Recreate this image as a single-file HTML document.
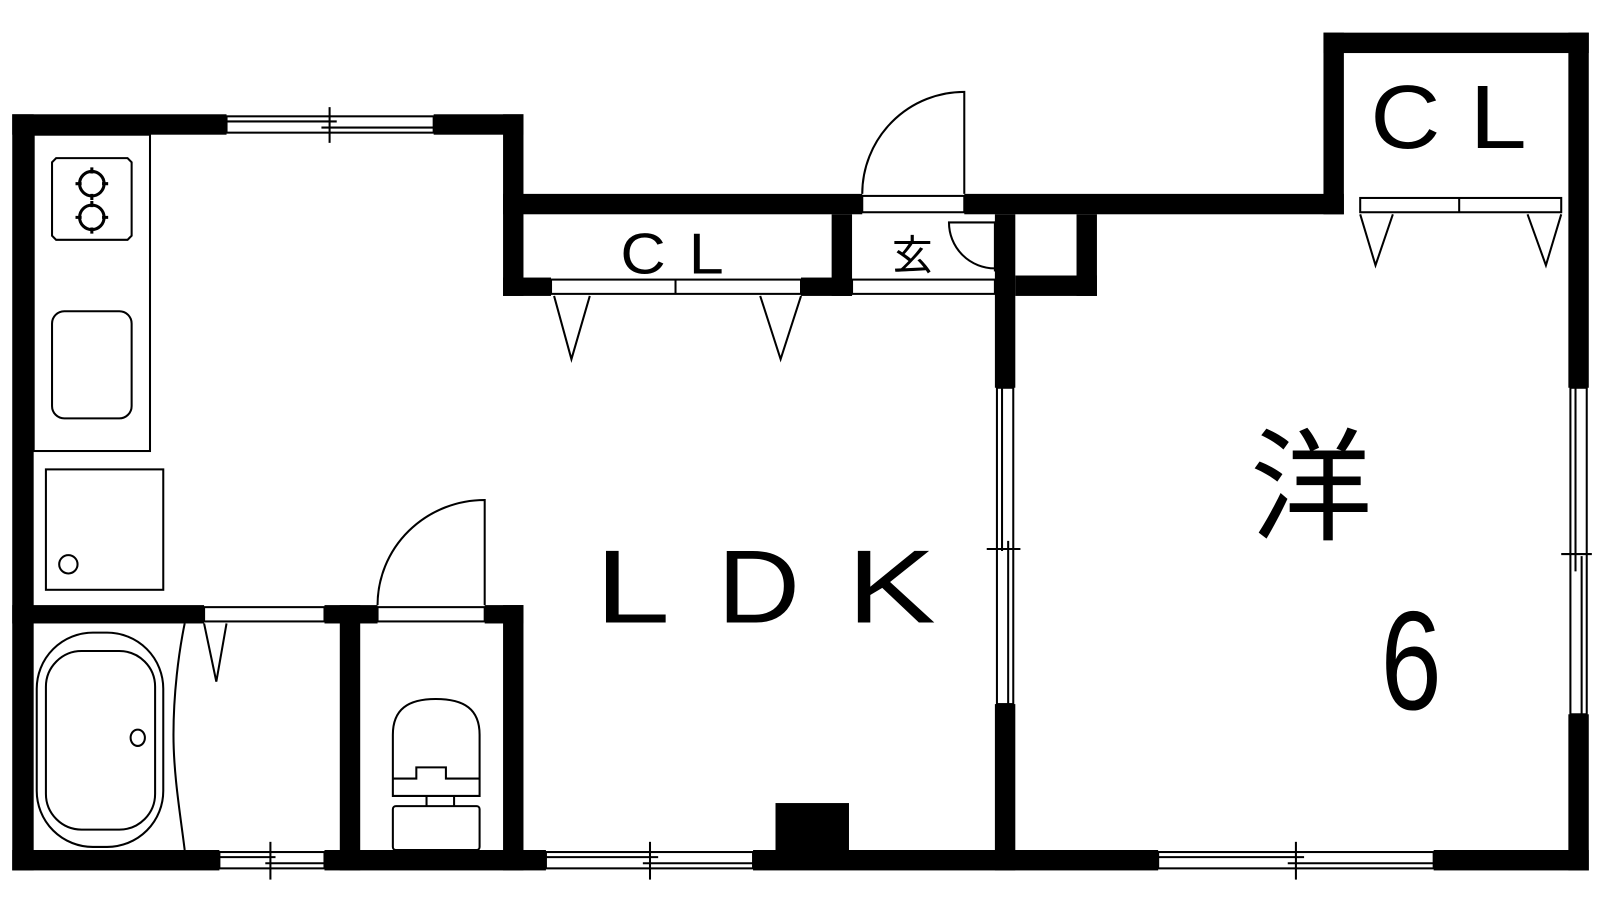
<!DOCTYPE html>
<html><head><meta charset="utf-8"><style>html,body{margin:0;padding:0;background:#fff}svg{display:block}</style></head>
<body>
<svg width="1600" height="900" viewBox="0 0 1568 882" preserveAspectRatio="none" xmlns="http://www.w3.org/2000/svg">
<rect width="1568" height="882" fill="#fff"/>
<g fill="#000">
<rect x="12" y="112" width="21" height="741"/>
<rect x="12" y="112" width="210" height="20"/>
<rect x="425" y="112" width="88" height="20"/>
<rect x="493" y="112" width="20" height="178"/>
<rect x="493" y="190" width="352" height="20"/>
<rect x="945" y="190" width="372" height="20"/>
<rect x="493" y="272" width="47" height="18"/>
<rect x="785" y="272" width="50" height="18"/>
<rect x="815" y="210" width="20" height="80"/>
<rect x="975" y="210" width="20" height="170"/>
<rect x="975" y="690" width="20" height="163"/>
<rect x="1055" y="210" width="20" height="80"/>
<rect x="995" y="270" width="80" height="20"/>
<rect x="1297" y="32" width="260" height="20"/>
<rect x="1297" y="32" width="20" height="178"/>
<rect x="1537" y="32" width="20" height="348"/>
<rect x="1537" y="700" width="20" height="153"/>
<rect x="12" y="833" width="203" height="20"/>
<rect x="318" y="833" width="217" height="20"/>
<rect x="738" y="833" width="397" height="20"/>
<rect x="1405" y="833" width="152" height="20"/>
<rect x="760" y="787" width="72" height="46"/>
<rect x="12" y="593" width="188" height="18"/>
<rect x="318" y="593" width="52" height="18"/>
<rect x="475" y="593" width="38" height="18"/>
<rect x="333" y="593" width="20" height="260"/>
<rect x="493" y="593" width="20" height="260"/>
</g>
<g fill="none" stroke="#000" stroke-width="2">
<rect x="222" y="114" width="203" height="16"/>
<line x1="222" y1="119" x2="330" y2="119"/><line x1="315" y1="125" x2="425" y2="125"/><line x1="323" y1="105" x2="323" y2="140"/>
<rect x="215" y="835" width="103" height="16"/>
<line x1="215" y1="840" x2="270" y2="840"/><line x1="260" y1="846" x2="318" y2="846"/><line x1="265" y1="825" x2="265" y2="862"/>
<rect x="535" y="835" width="203" height="16"/>
<line x1="535" y1="840" x2="645" y2="840"/><line x1="630" y1="846" x2="738" y2="846"/><line x1="637" y1="825" x2="637" y2="862"/>
<rect x="1135" y="835" width="270" height="16"/>
<line x1="1135" y1="840" x2="1278" y2="840"/><line x1="1262" y1="846" x2="1405" y2="846"/><line x1="1270" y1="825" x2="1270" y2="862"/>
<rect x="977" y="380" width="16" height="310"/>
<line x1="982" y1="380" x2="982" y2="540"/><line x1="988" y1="530" x2="988" y2="690"/><line x1="967" y1="538" x2="1000" y2="538"/>
<rect x="1539" y="380" width="16" height="320"/>
<line x1="1544" y1="380" x2="1544" y2="560"/><line x1="1550" y1="545" x2="1550" y2="700"/><line x1="1530" y1="543" x2="1560" y2="543"/>
<rect x="540" y="274" width="245" height="14"/>
<line x1="662" y1="274" x2="662" y2="288"/>
<polyline points="543,290 560,352 578,290"/>
<polyline points="745,290 765,352 785,290"/>
<rect x="1333" y="194" width="197" height="14"/>
<line x1="1430" y1="194" x2="1430" y2="208"/>
<polyline points="1333,210 1348,260 1365,210"/>
<polyline points="1497,210 1515,260 1530,210"/>
<rect x="845" y="192" width="100" height="16"/>
<path d="M945,190 L945,90 A100,100 0 0 0 845,190"/>
<rect x="835" y="274" width="140" height="14"/>
<path d="M975,218 L930,218 A45,45 0 0 0 975,263"/>
<rect x="975" y="218" width="17" height="47"/>
<rect x="370" y="595" width="105" height="14"/>
<path d="M475,593 L475,490 A105,103 0 0 0 370,593"/>
<rect x="200" y="595" width="118" height="14"/>
<polyline points="200,611 212,668 222,611"/>
<rect x="33" y="132" width="114" height="310"/>
<path d="M55,155 H125 L129,159 V231 L125,235 H55 L51,231 V159 Z"/>
<circle cx="90" cy="180" r="12" stroke-width="3"/><circle cx="90" cy="213" r="12" stroke-width="3"/>
<path d="M90,164 v6 M90,190 v6 M74,180 h6 M100,180 h6 M90,197 v6 M90,223 v6 M74,213 h6 M100,213 h6" stroke-width="3"/>
<rect x="51" y="305" width="78" height="105" rx="12"/>
<rect x="45" y="460" width="115" height="118"/>
<circle cx="67" cy="553" r="9"/>
<rect x="36" y="620" width="124" height="210" rx="55"/>
<rect x="45" y="638" width="107" height="175" rx="35"/>
<ellipse cx="135" cy="723" rx="7" ry="8"/>
<path d="M181,611 C175,640 170,680 170,720 C170,760 177,800 181,833"/>
<path d="M385,780 V720 C385,695 400,685 427,685 C455,685 470,695 470,720 V780 Z"/>
<path d="M385,763 H408 V752 H437 V763 H470"/>
<line x1="418" y1="780" x2="418" y2="790"/><line x1="445" y1="780" x2="445" y2="790"/>
<rect x="385" y="790" width="85" height="43" rx="3"/>
</g>
<g font-family="'Liberation Sans','Noto Sans CJK JP',sans-serif" fill="#000">
<text x="0" y="0" font-size="56" transform="translate(608,268) scale(1.1,1)">C</text>
<text x="0" y="0" font-size="56" transform="translate(675,268) scale(1.1,1)">L</text>
<text x="874" y="264" font-size="40">玄</text>
<text x="0" y="0" font-size="88" transform="translate(1343,145) scale(1.08,1)">C</text>
<text x="0" y="0" font-size="88" transform="translate(1440,145) scale(1.15,1)">L</text>
<text x="0" y="0" font-size="102" transform="translate(583,610) scale(1.3,1)">L</text>
<text x="0" y="0" font-size="102" transform="translate(703,610) scale(1.1,1)">D</text>
<text x="0" y="0" font-size="102" transform="translate(830,610) scale(1.28,1)">K</text>
<text x="1225" y="520" font-size="120" font-family="'Noto Sans CJK JP',sans-serif">洋</text>
<text x="0" y="0" font-size="138" transform="translate(1353,695) scale(0.78,1)">6</text>
</g>
</svg>
</body></html>
